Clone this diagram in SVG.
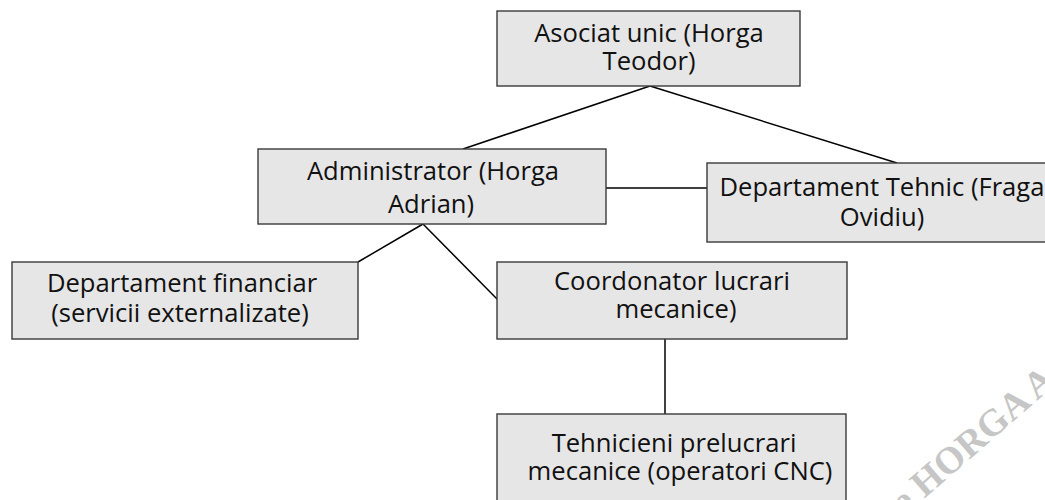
<svg xmlns="http://www.w3.org/2000/svg" width="1045" height="500" viewBox="0 0 1045 500">
<style>
.box{fill:#e6e6e6;stroke:#3a3a3a;stroke-width:1.4}
.t{font-family:"Open Sans","Liberation Sans",sans-serif;font-size:25.6px;fill:#111;text-anchor:middle}
.c{stroke:#000;stroke-width:1.5;fill:none}
.wm{font-family:"Liberation Serif",serif;font-size:38px;font-weight:bold;fill:#c6c6c6}
</style>
<rect width="1045" height="500" fill="#fff"/>
<g id="connectors">
<line class="c" x1="650" y1="86" x2="463" y2="149"/>
<line class="c" x1="650" y1="86" x2="897" y2="163"/>
<line class="c" x1="606" y1="188" x2="707" y2="188"/>
<line class="c" x1="423" y1="224" x2="358" y2="262"/>
<line class="c" x1="423" y1="224" x2="498" y2="300"/>
<line class="c" x1="665" y1="339" x2="665" y2="414"/>
</g>
<g id="asociat">
<rect class="box" x="497" y="11" width="303" height="75"/>
<text class="t" x="649" y="42">Asociat unic (Horga<tspan x="649" dy="28">Teodor)</tspan></text>
</g>
<g id="administrator">
<rect class="box" x="258" y="149" width="348" height="75"/>
<text class="t" x="433" y="180">Administrator (Horga<tspan x="431" dy="33">Adrian)</tspan></text>
</g>
<g id="dept-tehnic">
<rect class="box" x="707" y="163" width="352" height="79"/>
<text class="t" x="882" y="196">Departament Tehnic (Fraga<tspan x="882" dy="30">Ovidiu)</tspan></text>
</g>
<g id="dept-financiar">
<rect class="box" x="12" y="262" width="346" height="77"/>
<text class="t" x="182" y="292">Departament financiar<tspan x="180" dy="30">(servicii externalizate)</tspan></text>
</g>
<g id="coordonator">
<rect class="box" x="497" y="262" width="350" height="77"/>
<text class="t" x="672" y="290">Coordonator lucrari<tspan x="676" dy="28">mecanice)</tspan></text>
</g>
<g id="tehnicieni">
<rect class="box" x="497" y="414" width="349" height="95"/>
<text class="t" x="674" y="452">Tehnicieni prelucrari<tspan x="680" dy="28">mecanice (operatori CNC)</tspan></text>
</g>
<g id="watermark">
<text class="wm" transform="translate(924,499) rotate(-41)" x="-26">e HORGA A</text>
</g>
</svg>
